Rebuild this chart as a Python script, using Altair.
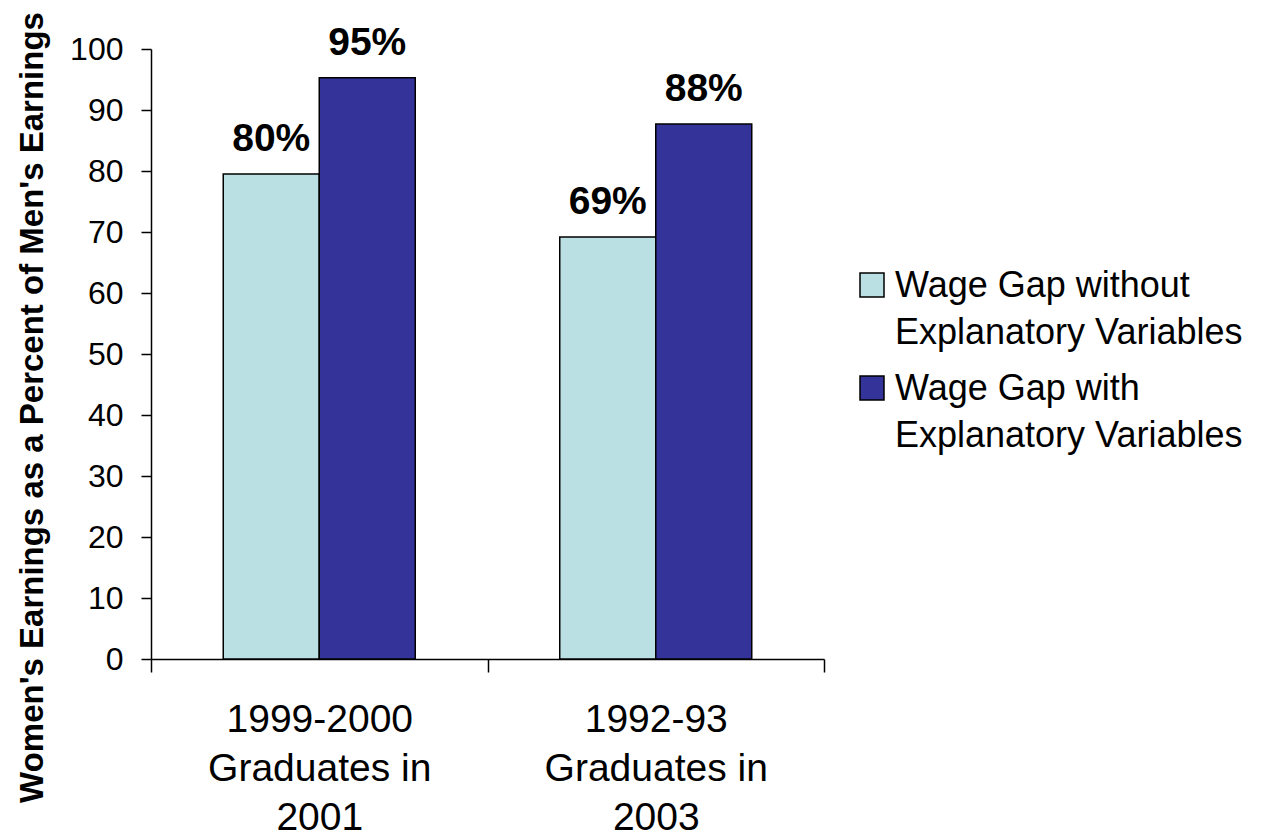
import altair as alt
import pandas as pd

# ---- data ----
categories = ["1999-2000\nGraduates in\n2001", "1992-93\nGraduates in\n2003"]
series = ["Wage Gap without\nExplanatory Variables", "Wage Gap with\nExplanatory Variables"]
values_without = [79.5, 69.2]
values_with = [95.3, 87.7]
labels_without = ["80%", "69%"]
labels_with = ["95%", "88%"]
colors = ["#BBE0E3", "#333399"]
y_ticks = [0, 10, 20, 30, 40, 50, 60, 70, 80, 90, 100]

rows = []
for i, c in enumerate(categories):
    rows.append({"cat": c, "series": series[0], "value": values_without[i], "label": labels_without[i]})
    rows.append({"cat": c, "series": series[1], "value": values_with[i], "label": labels_with[i]})
df = pd.DataFrame(rows)

FONT = "Liberation Sans, Arial, Helvetica, sans-serif"

x_enc = alt.X(
    "cat:N",
    sort=categories,
    scale=alt.Scale(paddingInner=0, paddingOuter=0),
    axis=alt.Axis(
        title=None,
        labelExpr="split(datum.label, '\\n')",
        labelAngle=0,
        labelFontSize=39,
        labelLineHeight=49,
        labelBaseline="alphabetic",
        labelPadding=59 - 12,
        labelColor="black",
        tickBand="extent",
        tickSize=13,
        tickColor="black",
        tickWidth=1.5,
        domainColor="black",
        domainWidth=1.5,
        labelLimit=400,
    ),
)
xoff_enc = alt.XOffset("series:N", sort=series, scale=alt.Scale(paddingInner=0, paddingOuter=0.7526))

y_enc = alt.Y(
    "value:Q",
    scale=alt.Scale(domain=[0, 100], nice=False),
    axis=alt.Axis(
        title="Women's Earnings as a Percent of Men's Earnings",
        values=y_ticks,
        grid=False,
        tickSize=10,
        tickColor="black",
        tickWidth=1.5,
        domainColor="black",
        domainWidth=1.5,
        labelFontSize=32,
        labelPadding=18,
        labelColor="black",
        labelOffset=-12,
        titleFontSize=33,
        titleFontWeight="bold",
        titleColor="black",
        titleAngle=270,
        titleAlign="center",
        titleBaseline="alphabetic",
        titleX=-109,
        titleY=358,
    ),
)

bars = alt.Chart(df).mark_bar(stroke="black", strokeWidth=1.5).encode(
    x=x_enc,
    xOffset=xoff_enc,
    y=y_enc,
    color=alt.Color(
        "series:N",
        sort=series,
        scale=alt.Scale(domain=series, range=colors),
        legend=alt.Legend(
            title=None,
            orient="none",
            legendX=703,
            legendY=218,
            padding=0,
            symbolType="square",
            symbolSize=576,
            symbolStrokeColor="black",
            symbolStrokeWidth=1.5,
            labelExpr="split(datum.label, '\\n')",
            labelFontSize=36,
            labelColor="black",
            labelBaseline="alphabetic",
            labelOffset=5,
            labelLimit=500,
            rowPadding=19,
        ),
    ),
)

texts = alt.Chart(df).mark_text(
    dy=-23,
    baseline="alphabetic",
    fontSize=39,
    fontWeight="bold",
    color="black",
).encode(
    x=alt.X("cat:N", sort=categories),
    xOffset=alt.XOffset("series:N", sort=series),
    y=alt.Y("value:Q"),
    text="label:N",
)

chart = (
    alt.layer(bars, texts)
    .properties(
        width=673,
        height=610,
        autosize=alt.AutoSizeParams(type="none"),
        padding={"left": 143, "top": 41, "right": 429, "bottom": 177},
    )
    .configure(font=FONT, style={"guide-label": {"lineHeight": 47, "dy": 12}})
    .configure_view(stroke=None)
)

chart.save("out.html", embed_options={"renderer": "svg", "actions": False})
